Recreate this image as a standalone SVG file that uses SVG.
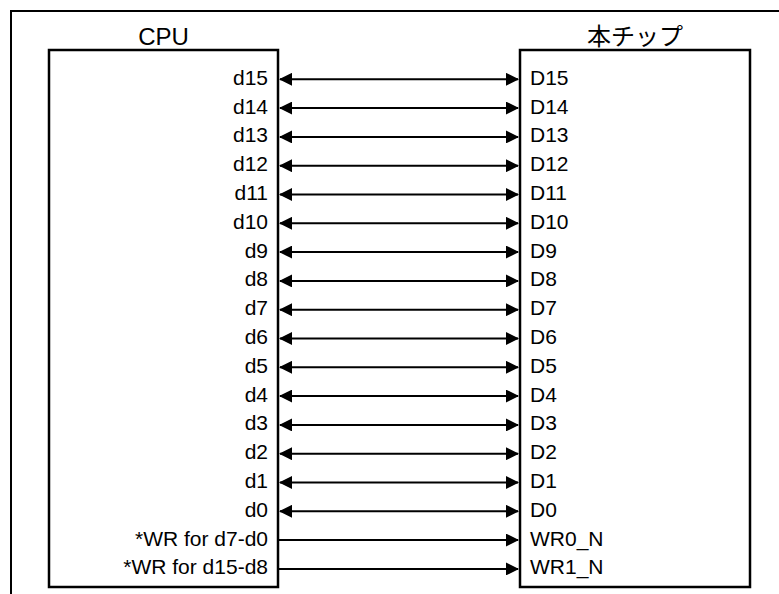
<svg xmlns="http://www.w3.org/2000/svg" width="779" height="594" viewBox="0 0 779 594">
<defs>
<style>
.box{fill:#fff;stroke:#000;stroke-width:2.5}
.frame{fill:none;stroke:#000;stroke-width:2}
.t{font-family:"Liberation Sans",Arial,sans-serif;font-size:21px;fill:#000}
.ttl{font-family:"Liberation Sans","Noto Sans CJK JP",sans-serif;font-size:24px;fill:#000;text-anchor:middle}
.l{text-anchor:end}
.w{stroke:#000;stroke-width:2;fill:none}
</style>
<marker id="ah" viewBox="0 0 13 13" refX="12" refY="6.5" markerWidth="13" markerHeight="13" markerUnits="userSpaceOnUse" orient="auto-start-reverse">
<path d="M0,0 L13,6.5 L0,13 Z" fill="#000"/>
</marker>
</defs>
<path class="frame" d="M11,594 V11 H779"/>
<g id="cpu">
<text class="ttl" x="163.5" y="45">CPU</text>
<rect class="box" x="49" y="50" width="229" height="537"/>
<g class="t l">
<text x="268" y="84.8">d15</text>
<text x="268" y="113.6">d14</text>
<text x="268" y="142.4">d13</text>
<text x="268" y="171.2">d12</text>
<text x="268" y="200">d11</text>
<text x="268" y="228.8">d10</text>
<text x="268" y="257.6">d9</text>
<text x="268" y="286.4">d8</text>
<text x="268" y="315.2">d7</text>
<text x="268" y="344">d6</text>
<text x="268" y="372.8">d5</text>
<text x="268" y="401.6">d4</text>
<text x="268" y="430.4">d3</text>
<text x="268" y="459.2">d2</text>
<text x="268" y="488">d1</text>
<text x="268" y="516.8">d0</text>
<text x="268" y="545.6">*WR for d7-d0</text>
<text x="268" y="574.4">*WR for d15-d8</text>
</g>
</g>
<g id="chip">
<text class="ttl" x="635" y="45">本チップ</text>
<rect class="box" x="520" y="50" width="230" height="537"/>
<g class="t">
<text x="530" y="84.8">D15</text>
<text x="530" y="113.6">D14</text>
<text x="530" y="142.4">D13</text>
<text x="530" y="171.2">D12</text>
<text x="530" y="200">D11</text>
<text x="530" y="228.8">D10</text>
<text x="530" y="257.6">D9</text>
<text x="530" y="286.4">D8</text>
<text x="530" y="315.2">D7</text>
<text x="530" y="344">D6</text>
<text x="530" y="372.8">D5</text>
<text x="530" y="401.6">D4</text>
<text x="530" y="430.4">D3</text>
<text x="530" y="459.2">D2</text>
<text x="530" y="488">D1</text>
<text x="530" y="516.8">D0</text>
<text x="530" y="545.6">WR0_N</text>
<text x="530" y="574.4">WR1_N</text>
</g>
</g>
<g id="connectors" class="w">
<path d="M280,79.3 H518" marker-start="url(#ah)" marker-end="url(#ah)"/>
<path d="M280,108.1 H518" marker-start="url(#ah)" marker-end="url(#ah)"/>
<path d="M280,136.9 H518" marker-start="url(#ah)" marker-end="url(#ah)"/>
<path d="M280,165.7 H518" marker-start="url(#ah)" marker-end="url(#ah)"/>
<path d="M280,194.5 H518" marker-start="url(#ah)" marker-end="url(#ah)"/>
<path d="M280,223.3 H518" marker-start="url(#ah)" marker-end="url(#ah)"/>
<path d="M280,252.1 H518" marker-start="url(#ah)" marker-end="url(#ah)"/>
<path d="M280,280.9 H518" marker-start="url(#ah)" marker-end="url(#ah)"/>
<path d="M280,309.7 H518" marker-start="url(#ah)" marker-end="url(#ah)"/>
<path d="M280,338.5 H518" marker-start="url(#ah)" marker-end="url(#ah)"/>
<path d="M280,367.3 H518" marker-start="url(#ah)" marker-end="url(#ah)"/>
<path d="M280,396.1 H518" marker-start="url(#ah)" marker-end="url(#ah)"/>
<path d="M280,424.9 H518" marker-start="url(#ah)" marker-end="url(#ah)"/>
<path d="M280,453.7 H518" marker-start="url(#ah)" marker-end="url(#ah)"/>
<path d="M280,482.5 H518" marker-start="url(#ah)" marker-end="url(#ah)"/>
<path d="M280,511.3 H518" marker-start="url(#ah)" marker-end="url(#ah)"/>
<path d="M279,540.1 H518" marker-end="url(#ah)"/>
<path d="M279,568.9 H518" marker-end="url(#ah)"/>
</g>
</svg>
